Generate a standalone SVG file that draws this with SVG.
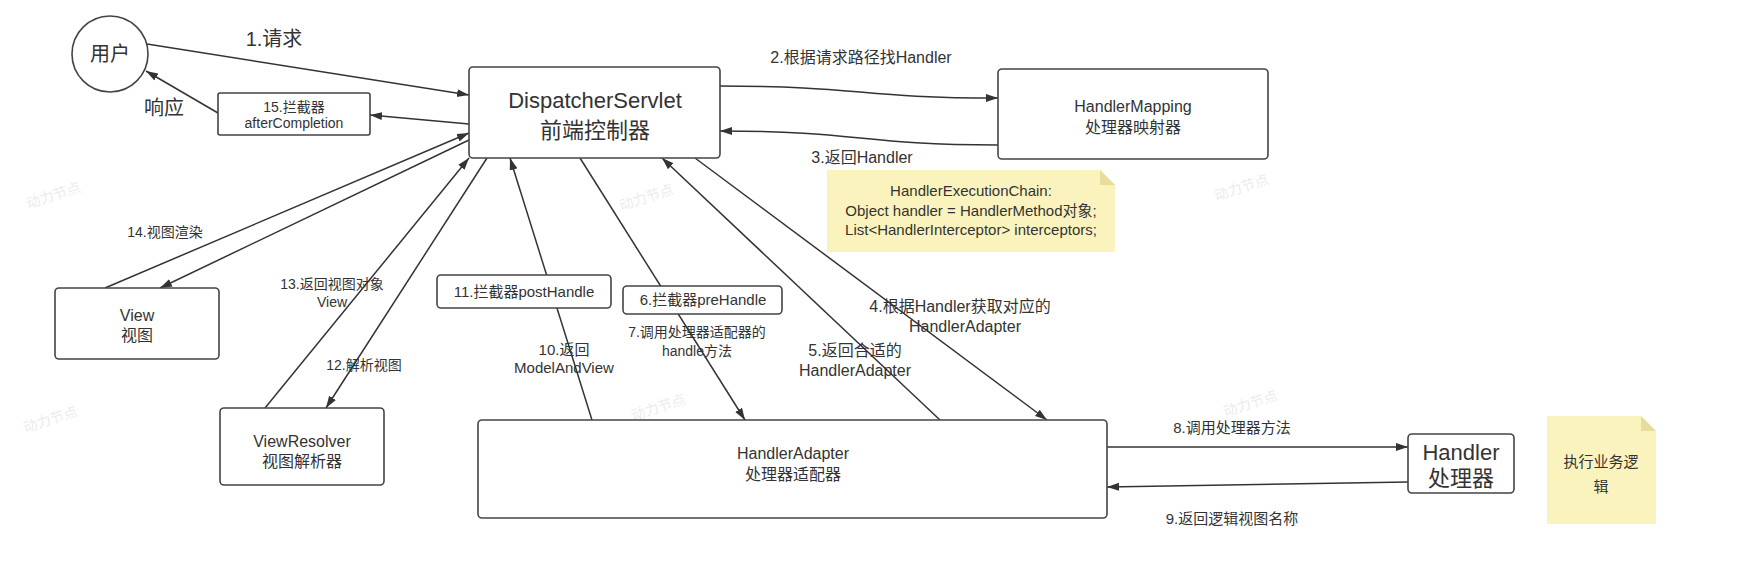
<svg xmlns="http://www.w3.org/2000/svg" width="1758" height="561" viewBox="0 0 1758 561">
<style>
text{font-family:"Liberation Sans","Noto Sans CJK SC",sans-serif;fill:#333;text-anchor:middle}
.node{fill:#fff;stroke:#444;stroke-width:1.6}
.c{fill:none;stroke:#333;stroke-width:1.5}
.a{marker-end:url(#arr)}
.note{fill:#fbf3bd}
.fold{fill:#e8dc9c}
.wm{fill:#ececec;font-size:14px}
.s14{font-size:14px}.s15{font-size:15px}.s16{font-size:16px}.s20{font-size:20px}.s22{font-size:22px}
</style>
<defs>
<marker id="arr" viewBox="0 0 12 10" refX="12" refY="5" markerWidth="12" markerHeight="10" markerUnits="userSpaceOnUse" orient="auto">
<path d="M0,1 L12,5 L0,9 z" fill="#333"/>
</marker>
</defs>
<rect width="1758" height="561" fill="#fff"/>
<g id="watermarks">
<text class="wm" transform="translate(55,200) rotate(-18)">动力节点</text>
<text class="wm" transform="translate(648,202) rotate(-18)">动力节点</text>
<text class="wm" transform="translate(1243,192) rotate(-18)">动力节点</text>
<text class="wm" transform="translate(52,424) rotate(-18)">动力节点</text>
<text class="wm" transform="translate(660,412) rotate(-18)">动力节点</text>
<text class="wm" transform="translate(1252,408) rotate(-18)">动力节点</text>
</g>
<g id="connectors">
<path class="c a" d="M147,44 L469,95"/>
<path class="c a" d="M469,124 L370,115"/>
<path class="c a" d="M218,113 L146,71"/>
<path class="c a" d="M720,86 C860,86 860,98 998,98"/>
<path class="c a" d="M998,145 C860,145 860,131 720,131"/>
<path class="c a" d="M105,288 L469,133"/>
<path class="c a" d="M469,140 L160,288"/>
<path class="c a" d="M265,408 L469,158"/>
<path class="c a" d="M487,158 L326,408"/>
<path class="c a" d="M592,420 L510,158"/>
<path class="c a" d="M580,158 L745,420"/>
<path class="c a" d="M940,420 L662,158"/>
<path class="c a" d="M695,158 L1047,420"/>
<path class="c a" d="M1107,447 L1408,447"/>
<path class="c a" d="M1408,482 L1107,487"/>
<text class="s20" x="274" y="46">1.请求</text>
<text class="s20" x="164" y="115">响应</text>
<text class="s16" x="861" y="63">2.根据请求路径找Handler</text>
<text class="s16" x="862" y="163">3.返回Handler</text>
<text class="s14" x="165" y="237">14.视图渲染</text>
<text class="s14" x="332" y="289">13.返回视图对象</text>
<text class="s14" x="332" y="307">View</text>
<text class="s14" x="364" y="370">12.解析视图</text>
<text class="s15" x="564" y="355">10.返回</text>
<text class="s15" x="564" y="373">ModelAndView</text>
<text class="s14" x="697" y="337">7.调用处理器适配器的</text>
<text class="s14" x="697" y="356">handle方法</text>
<text class="s16" x="855" y="356">5.返回合适的</text>
<text class="s16" x="855" y="376">HandlerAdapter</text>
<text class="s16" x="960" y="312">4.根据Handler获取对应的</text>
<text class="s16" x="965" y="332">HandlerAdapter</text>
<text class="s15" x="1232" y="433">8.调用处理器方法</text>
<text class="s15" x="1232" y="524">9.返回逻辑视图名称</text>
</g>
<g id="user">
<circle class="node" cx="110" cy="54" r="38"/>
<text class="s20" x="110" y="61">用户</text>
</g>
<g id="dispatcher">
<rect class="node" x="469" y="67" width="251" height="91" rx="4"/>
<text class="s22" x="595" y="108">DispatcherServlet</text>
<text class="s22" x="595" y="138">前端控制器</text>
</g>
<g id="handlerMapping">
<rect class="node" x="998" y="69" width="270" height="90" rx="4"/>
<text class="s16" x="1133" y="112">HandlerMapping</text>
<text class="s16" x="1133" y="133">处理器映射器</text>
</g>
<g id="afterCompletion">
<rect class="node" x="218" y="93" width="152" height="42" rx="2"/>
<text class="s14" x="294" y="112">15.拦截器</text>
<text class="s14" x="294" y="128">afterCompletion</text>
</g>
<g id="chainNote">
<path class="note" d="M827,170 L1100,170 L1115,185 L1115,252 L827,252 Z"/>
<path class="fold" d="M1100,170 L1115,185 L1100,185 Z"/>
<text class="s15" x="971" y="196">HandlerExecutionChain:</text>
<text class="s15" x="971" y="216">Object handler = HandlerMethod对象;</text>
<text class="s15" x="971" y="235">List&lt;HandlerInterceptor&gt; interceptors;</text>
</g>
<g id="view">
<rect class="node" x="55" y="288" width="164" height="71" rx="4"/>
<text class="s16" x="137" y="321">View</text>
<text class="s16" x="137" y="341">视图</text>
</g>
<g id="viewResolver">
<rect class="node" x="220" y="408" width="164" height="77" rx="4"/>
<text class="s16" x="302" y="447">ViewResolver</text>
<text class="s16" x="302" y="467">视图解析器</text>
</g>
<g id="postHandle">
<rect class="node" x="437" y="275" width="174" height="33" rx="4"/>
<text class="s15" x="524" y="297">11.拦截器postHandle</text>
</g>
<g id="preHandle">
<rect class="node" x="623" y="286" width="159" height="28" rx="4"/>
<text class="s15" x="703" y="305">6.拦截器preHandle</text>
</g>
<g id="handlerAdapter">
<rect class="node" x="478" y="420" width="629" height="98" rx="4"/>
<text class="s16" x="793" y="459">HandlerAdapter</text>
<text class="s16" x="793" y="480">处理器适配器</text>
</g>
<g id="handler">
<rect class="node" x="1408" y="434" width="106" height="59" rx="4"/>
<text class="s22" x="1461" y="460">Handler</text>
<text class="s22" x="1461" y="486">处理器</text>
</g>
<g id="logicNote">
<path class="note" d="M1547,416 L1641,416 L1656,431 L1656,524 L1547,524 Z"/>
<path class="fold" d="M1641,416 L1656,431 L1641,431 Z"/>
<text class="s15" x="1601" y="467">执行业务逻</text>
<text class="s15" x="1601" y="492">辑</text>
</g>
</svg>
